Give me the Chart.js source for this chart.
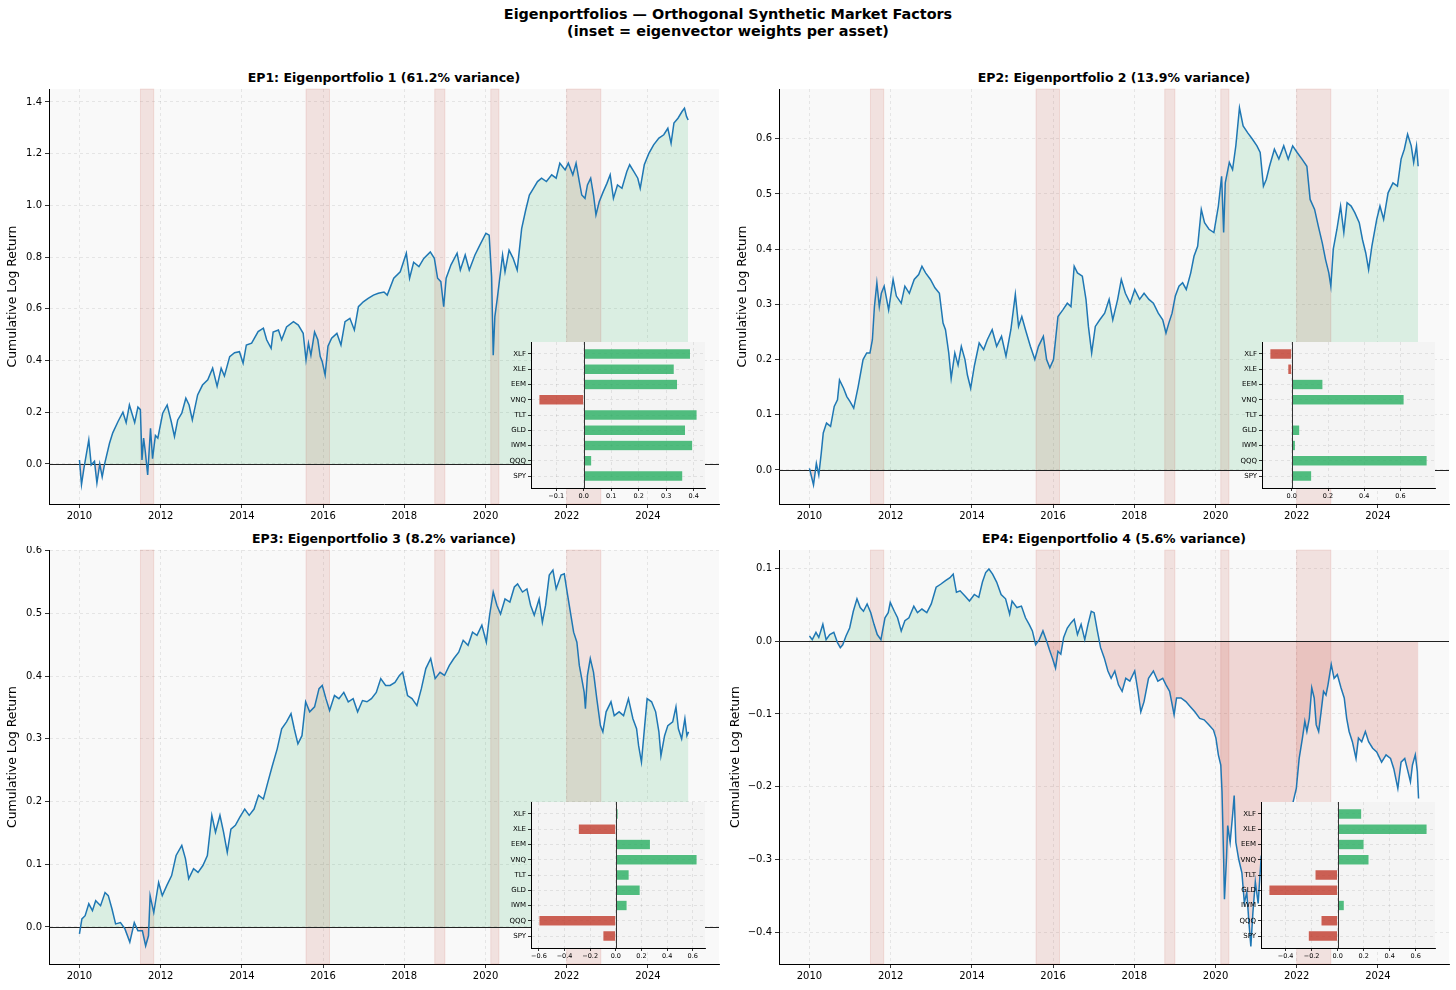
<!DOCTYPE html>
<html>
<head>
<meta charset="utf-8">
<script src="https://cdn.jsdelivr.net/npm/chart.js@4.4.1/dist/chart.umd.min.js"></script>
<style>
  body { margin: 0; background: #fff; font-family: 'DejaVu Sans', sans-serif; }
  #fig { position: relative; width: 1456px; height: 990px; overflow: hidden; }
  canvas { position: absolute; }
  .suptitle { position: absolute; left: 0; top: 6px; width: 1456px; text-align: center;
              font-weight: bold; font-size: 14.4px; line-height: 17px; color: #000; }
  .axtitle { position: absolute; width: 700px; text-align: center; font-weight: bold;
             font-size: 12.5px; line-height: 15px; color: #000; }
</style>
</head>
<body>
<div id="fig">
  <div class="suptitle">Eigenportfolios — Orthogonal Synthetic Market Factors<br>(inset = eigenvector weights per asset)</div>
</div>
<script>
/* Eigenportfolio cumulative returns with eigenvector weight insets */

// Shared axis data
const yearTicks = [2010, 2012, 2014, 2016, 2018, 2020, 2022, 2024];
const crisisStart = [2011.50, 2015.58, 2018.75, 2020.13, 2022.00];
const crisisEnd   = [2011.83, 2016.16, 2019.00, 2020.33, 2022.84];
const varianceShare = [61.2, 13.9, 8.2, 5.6];

// Assets, bottom to top of the inset
const assets = ['SPY', 'QQQ', 'IWM', 'GLD', 'TLT', 'VNQ', 'EEM', 'XLE', 'XLF'];
const ep1Weights = [0.360, 0.029, 0.396, 0.370, 0.412, -0.163, 0.341, 0.329, 0.388];
const ep2Weights = [0.110, 0.747, 0.020, 0.044, 0.009, 0.620, 0.172, -0.022, -0.121];
const ep3Weights = [-0.101, -0.600, 0.088, 0.190, 0.104, 0.634, 0.270, -0.293, 0.018];
const ep4Weights = [-0.226, -0.128, 0.051, -0.528, -0.174, 0.241, 0.203, 0.687, 0.185];

// EP1 cumulative log return
const ep1Dates = [2010.00,2010.05,2010.11,2010.23,2010.29,2010.37,2010.43,2010.50,2010.56,2010.62,2010.74,2010.82,2010.95,
  2011.07,2011.15,2011.23,2011.36,2011.44,2011.50,2011.54,2011.58,2011.62,2011.68,2011.75,2011.80,2011.87,2011.93,
  2012.05,2012.16,2012.26,2012.34,2012.42,2012.52,2012.62,2012.70,2012.78,2012.91,2013.03,2013.16,2013.28,2013.39,
  2013.49,2013.57,2013.70,2013.82,2013.94,2014.03,2014.11,2014.24,2014.40,2014.53,2014.61,2014.72,2014.77,2014.90,
  2014.98,2015.10,2015.27,2015.39,2015.51,2015.58,2015.64,2015.70,2015.79,2015.87,2015.93,2015.98,2016.05,2016.12,
  2016.21,2016.34,2016.44,2016.54,2016.66,2016.77,2016.87,2016.99,2017.11,2017.24,2017.36,2017.50,2017.58,2017.74,
  2017.90,2018.05,2018.13,2018.23,2018.36,2018.48,2018.64,2018.74,2018.82,2018.90,2018.97,2019.03,2019.15,2019.30,
  2019.38,2019.50,2019.60,2019.74,2019.86,2020.01,2020.09,2020.15,2020.19,2020.23,2020.29,2020.37,2020.42,2020.48,
  2020.58,2020.68,2020.78,2020.89,2020.99,2021.08,2021.18,2021.28,2021.38,2021.50,2021.63,2021.74,2021.83,2021.96,
  2022.04,2022.15,2022.23,2022.31,2022.37,2022.45,2022.51,2022.59,2022.66,2022.72,2022.80,2022.90,2022.99,2023.07,
  2023.15,2023.25,2023.36,2023.48,2023.55,2023.65,2023.75,2023.81,2023.91,2024.02,2024.14,2024.27,2024.39,2024.49,
  2024.57,2024.64,2024.74,2024.84,2024.90,2024.95,2024.99];
const ep1Values = [0.015,-0.080,-0.017,0.093,-0.004,0.010,-0.074,0.000,-0.050,0.000,0.080,0.120,0.164,
  0.200,0.160,0.228,0.160,0.220,0.210,0.015,0.100,0.050,-0.043,0.138,0.020,0.110,0.100,
  0.196,0.228,0.164,0.106,0.170,0.196,0.254,0.228,0.170,0.267,0.305,0.325,0.370,0.300,
  0.370,0.340,0.415,0.430,0.434,0.390,0.460,0.467,0.512,0.525,0.480,0.447,0.510,0.518,
  0.480,0.530,0.550,0.537,0.505,0.402,0.467,0.420,0.510,0.480,0.415,0.395,0.344,0.455,
  0.486,0.505,0.460,0.550,0.563,0.518,0.608,0.627,0.640,0.653,0.660,0.665,0.653,0.718,
  0.743,0.815,0.718,0.780,0.763,0.795,0.820,0.795,0.718,0.705,0.608,0.718,0.770,0.815,
  0.750,0.808,0.750,0.808,0.846,0.892,0.885,0.724,0.420,0.570,0.640,0.743,0.808,0.743,
  0.827,0.795,0.750,0.910,0.982,1.040,1.066,1.092,1.105,1.092,1.118,1.105,1.163,1.137,
  1.163,1.118,1.163,1.092,1.040,1.027,1.079,1.105,1.040,0.963,1.014,1.053,1.085,1.118,
  1.027,1.079,1.066,1.131,1.157,1.131,1.105,1.066,1.157,1.200,1.234,1.260,1.273,1.298,
  1.240,1.318,1.337,1.363,1.376,1.344,1.330];

// EP2 cumulative log return
const ep2Dates = [2010.00,2010.06,2010.10,2010.17,2010.23,2010.29,2010.34,2010.42,2010.52,2010.61,2010.69,2010.74,2010.84,
  2010.92,2011.00,2011.09,2011.20,2011.32,2011.41,2011.49,2011.55,2011.60,2011.66,2011.72,2011.77,2011.84,2011.95,
  2012.06,2012.14,2012.26,2012.35,2012.46,2012.58,2012.69,2012.77,2012.86,2012.98,2013.09,2013.20,2013.29,2013.35,
  2013.43,2013.49,2013.58,2013.66,2013.74,2013.83,2013.89,2013.97,2014.06,2014.18,2014.29,2014.38,2014.50,2014.61,
  2014.73,2014.84,2014.96,2015.07,2015.15,2015.23,2015.32,2015.44,2015.55,2015.64,2015.76,2015.84,2015.92,2016.01,
  2016.12,2016.24,2016.35,2016.44,2016.52,2016.60,2016.72,2016.81,2016.87,2016.95,2017.04,2017.15,2017.27,2017.38,
  2017.47,2017.59,2017.68,2017.78,2017.90,2018.01,2018.13,2018.24,2018.36,2018.47,2018.59,2018.70,2018.78,2018.85,
  2018.93,2019.01,2019.10,2019.19,2019.28,2019.39,2019.47,2019.56,2019.65,2019.73,2019.84,2019.96,2020.07,2020.15,
  2020.20,2020.24,2020.34,2020.42,2020.50,2020.59,2020.68,2020.79,2020.91,2021.02,2021.10,2021.18,2021.25,2021.33,
  2021.45,2021.56,2021.68,2021.79,2021.90,2022.01,2022.13,2022.25,2022.33,2022.44,2022.53,2022.63,2022.71,2022.79,
  2022.84,2022.90,2022.99,2023.08,2023.16,2023.24,2023.34,2023.43,2023.54,2023.62,2023.70,2023.77,2023.85,2023.97,
  2024.05,2024.14,2024.25,2024.37,2024.48,2024.57,2024.65,2024.73,2024.82,2024.88,2024.95,2024.99];
const ep2Values = [0.003,-0.015,-0.027,0.012,-0.009,0.030,0.067,0.085,0.079,0.115,0.127,0.163,0.148,
  0.133,0.124,0.112,0.151,0.200,0.212,0.212,0.236,0.296,0.339,0.296,0.320,0.333,0.290,
  0.345,0.315,0.302,0.333,0.320,0.345,0.354,0.369,0.357,0.345,0.330,0.320,0.266,0.254,
  0.212,0.166,0.212,0.190,0.224,0.200,0.172,0.148,0.188,0.230,0.218,0.236,0.254,0.224,
  0.242,0.206,0.254,0.318,0.260,0.278,0.254,0.224,0.200,0.224,0.242,0.200,0.185,0.200,
  0.278,0.290,0.302,0.296,0.369,0.357,0.351,0.309,0.260,0.212,0.260,0.272,0.284,0.309,
  0.272,0.309,0.345,0.320,0.302,0.327,0.309,0.320,0.309,0.302,0.284,0.272,0.248,0.266,
  0.284,0.315,0.333,0.339,0.327,0.357,0.387,0.405,0.472,0.448,0.436,0.430,0.478,0.532,
  0.430,0.520,0.557,0.544,0.587,0.656,0.623,0.611,0.599,0.587,0.575,0.514,0.526,0.550,
  0.581,0.563,0.587,0.563,0.587,0.575,0.563,0.550,0.490,0.472,0.442,0.411,0.381,0.357,
  0.333,0.400,0.436,0.478,0.430,0.484,0.478,0.466,0.448,0.417,0.393,0.363,0.405,0.454,
  0.478,0.454,0.502,0.520,0.514,0.563,0.581,0.608,0.587,0.557,0.587,0.550];

// EP3 cumulative log return
const ep3Dates = [2010.00,2010.06,2010.14,2010.23,2010.32,2010.40,2010.52,2010.63,2010.71,2010.80,2010.89,2011.01,2011.12,
  2011.24,2011.35,2011.44,2011.55,2011.63,2011.70,2011.74,2011.83,2011.95,2012.04,2012.15,2012.27,2012.38,2012.52,
  2012.61,2012.69,2012.81,2012.92,2013.04,2013.15,2013.26,2013.35,2013.46,2013.55,2013.64,2013.73,2013.84,2013.95,
  2014.07,2014.18,2014.30,2014.41,2014.53,2014.64,2014.75,2014.87,2014.98,2015.10,2015.21,2015.29,2015.38,2015.48,
  2015.57,2015.67,2015.79,2015.90,2015.98,2016.07,2016.16,2016.28,2016.39,2016.51,2016.62,2016.74,2016.85,2016.97,
  2017.08,2017.19,2017.31,2017.42,2017.54,2017.65,2017.77,2017.88,2017.96,2018.08,2018.19,2018.31,2018.42,2018.53,
  2018.65,2018.76,2018.88,2018.99,2019.11,2019.22,2019.34,2019.45,2019.57,2019.68,2019.79,2019.91,2020.02,2020.10,
  2020.19,2020.28,2020.37,2020.48,2020.60,2020.71,2020.79,2020.91,2021.02,2021.11,2021.20,2021.32,2021.40,2021.48,
  2021.57,2021.66,2021.74,2021.86,2021.94,2022.01,2022.09,2022.17,2022.25,2022.31,2022.37,2022.43,2022.46,2022.51,
  2022.58,2022.66,2022.74,2022.83,2022.89,2022.97,2023.09,2023.17,2023.29,2023.40,2023.52,2023.63,2023.72,2023.77,
  2023.84,2023.92,2023.98,2024.09,2024.19,2024.27,2024.32,2024.41,2024.49,2024.61,2024.69,2024.75,2024.83,2024.91,
  2024.96,2025.00];
const ep3Values = [-0.011,0.013,0.018,0.037,0.026,0.042,0.034,0.055,0.050,0.029,0.005,0.007,-0.003,
  -0.024,0.007,-0.006,-0.006,-0.030,-0.014,0.050,0.023,0.071,0.050,0.066,0.082,0.114,0.130,
  0.109,0.077,0.093,0.087,0.098,0.114,0.178,0.151,0.178,0.151,0.119,0.156,0.162,0.175,
  0.188,0.178,0.188,0.210,0.204,0.231,0.257,0.284,0.316,0.327,0.340,0.316,0.292,0.305,
  0.359,0.343,0.351,0.380,0.385,0.364,0.345,0.369,0.364,0.374,0.359,0.364,0.343,0.361,
  0.359,0.364,0.374,0.396,0.385,0.385,0.390,0.401,0.406,0.369,0.364,0.353,0.380,0.412,
  0.428,0.396,0.406,0.401,0.417,0.428,0.438,0.457,0.449,0.470,0.465,0.481,0.454,0.497,
  0.534,0.513,0.499,0.523,0.518,0.542,0.547,0.534,0.539,0.513,0.497,0.523,0.486,0.513,
  0.561,0.569,0.539,0.561,0.563,0.534,0.502,0.470,0.454,0.417,0.396,0.374,0.348,0.401,
  0.428,0.406,0.364,0.321,0.311,0.343,0.359,0.337,0.343,0.337,0.364,0.332,0.316,0.289,
  0.263,0.321,0.364,0.359,0.343,0.311,0.273,0.305,0.321,0.327,0.351,0.316,0.300,0.332,
  0.305,0.311];

// EP4 cumulative log return
const ep4Dates = [2010.00,2010.07,2010.16,2010.23,2010.33,2010.41,2010.50,2010.60,2010.69,2010.76,2010.82,2010.90,2010.99,
  2011.08,2011.17,2011.25,2011.33,2011.42,2011.51,2011.59,2011.67,2011.76,2011.86,2011.94,2011.99,2012.09,2012.17,
  2012.26,2012.35,2012.45,2012.57,2012.66,2012.77,2012.89,2013.00,2013.12,2013.23,2013.35,2013.46,2013.54,2013.62,
  2013.71,2013.83,2013.94,2014.06,2014.17,2014.26,2014.34,2014.42,2014.51,2014.61,2014.72,2014.83,2014.93,2014.99,
  2015.11,2015.22,2015.32,2015.41,2015.49,2015.57,2015.66,2015.75,2015.84,2015.91,2015.98,2016.06,2016.12,2016.19,
  2016.26,2016.35,2016.44,2016.52,2016.60,2016.69,2016.78,2016.86,2016.94,2017.01,2017.09,2017.17,2017.26,2017.35,
  2017.43,2017.52,2017.61,2017.70,2017.79,2017.89,2018.01,2018.09,2018.16,2018.24,2018.35,2018.47,2018.58,2018.70,
  2018.78,2018.87,2018.98,2019.04,2019.15,2019.27,2019.38,2019.49,2019.61,2019.72,2019.84,2019.95,2020.01,2020.07,
  2020.13,2020.16,2020.20,2020.22,2020.27,2020.30,2020.36,2020.42,2020.46,2020.50,2020.57,2020.65,2020.71,2020.77,
  2020.83,2020.87,2020.92,2020.98,2021.05,2021.12,2021.25,2021.40,2021.55,2021.70,2021.85,2021.91,2021.99,2022.06,
  2022.14,2022.20,2022.25,2022.31,2022.37,2022.43,2022.48,2022.54,2022.60,2022.66,2022.72,2022.77,2022.85,2022.92,
  2023.00,2023.09,2023.17,2023.23,2023.29,2023.37,2023.46,2023.52,2023.60,2023.69,2023.77,2023.87,2023.97,2024.09,
  2024.20,2024.31,2024.39,2024.49,2024.57,2024.66,2024.74,2024.80,2024.85,2024.92,2024.97,2025.00];
const ep4Values = [0.007,0.002,0.012,0.005,0.023,0.002,0.009,0.012,-0.002,-0.009,-0.005,0.007,0.018,
  0.041,0.058,0.046,0.041,0.051,0.039,0.023,0.009,0.002,0.032,0.039,0.053,0.041,0.032,
  0.014,0.028,0.032,0.048,0.039,0.044,0.039,0.051,0.074,0.078,0.083,0.087,0.092,0.067,
  0.069,0.062,0.055,0.064,0.060,0.081,0.094,0.099,0.092,0.081,0.064,0.058,0.037,0.055,
  0.046,0.048,0.032,0.023,0.014,-0.005,0.002,0.014,0.000,-0.012,-0.023,-0.037,-0.014,-0.018,
  0.005,0.018,0.025,0.030,0.009,0.023,0.002,0.023,0.041,0.039,0.014,-0.009,-0.023,-0.041,
  -0.051,-0.041,-0.060,-0.069,-0.051,-0.055,-0.041,-0.069,-0.097,-0.083,-0.051,-0.041,-0.055,-0.051,
  -0.060,-0.069,-0.101,-0.078,-0.078,-0.083,-0.090,-0.097,-0.106,-0.108,-0.115,-0.122,-0.133,-0.156,
  -0.170,-0.207,-0.299,-0.354,-0.299,-0.253,-0.276,-0.239,-0.212,-0.276,-0.299,-0.318,-0.359,-0.345,
  -0.391,-0.419,-0.373,-0.330,-0.360,-0.300,-0.330,-0.300,-0.280,-0.260,-0.240,-0.221,-0.202,-0.161,
  -0.133,-0.110,-0.124,-0.106,-0.064,-0.078,-0.115,-0.124,-0.097,-0.069,-0.074,-0.060,-0.032,-0.051,
  -0.046,-0.064,-0.078,-0.106,-0.124,-0.138,-0.161,-0.133,-0.138,-0.124,-0.138,-0.147,-0.152,-0.166,
  -0.156,-0.161,-0.175,-0.202,-0.166,-0.161,-0.179,-0.193,-0.170,-0.156,-0.179,-0.216];

const seriesDates = [ep1Dates, ep2Dates, ep3Dates, ep4Dates];
const seriesValues = [ep1Values, ep2Values, ep3Values, ep4Values];
const seriesWeights = [ep1Weights, ep2Weights, ep3Weights, ep4Weights];

// Layout of the four panels (pixels)
const panels = [
  { left: 0,   top: 85,  w: 728, h: 440, yAxisW: 49, xAxisH: 21, padRight: 9, yMin: -0.155, yMax: 1.450, yStep: 0.2, labelPad: 5, titleY: 70,
    inset: { left: 505,  top: 338, w: 207, h: 167, step: 0.1 } },
  { left: 728, top: 85,  w: 728, h: 440, yAxisW: 51, xAxisH: 21, padRight: 7, yMin: -0.0616, yMax: 0.690, yStep: 0.1, labelPad: 7, titleY: 70,
    inset: { left: 1236, top: 338, w: 206, h: 167, step: 0.2 } },
  { left: 0,   top: 546, w: 728, h: 444, yAxisW: 49, xAxisH: 26, padRight: 9, yMin: -0.059, yMax: 0.601, yStep: 0.1, labelPad: 5, titleY: 531,
    inset: { left: 505,  top: 798, w: 207, h: 167, step: 0.2 } },
  { left: 728, top: 546, w: 728, h: 444, yAxisW: 51, xAxisH: 26, padRight: 7, yMin: -0.443, yMax: 0.125, yStep: 0.1, labelPad: 0, titleY: 531,
    inset: { left: 1235, top: 798, w: 207, h: 167, step: 0.2 } }
];

const X_MIN = 2009.25, X_MAX = 2025.75;
const LINE_COLOR = '#1f77b4';
const GREEN_FILL = 'rgba(39,174,96,0.15)';
const RED_FILL = 'rgba(192,57,43,0.18)';
const SPAN_FILL = 'rgba(192,57,43,0.12)';
const BAR_GREEN = 'rgba(39,174,96,0.8)';
const BAR_RED = 'rgba(192,57,43,0.8)';

Chart.defaults.font.family = "'DejaVu Sans', sans-serif";
Chart.defaults.color = '#000';

const fig = document.getElementById('fig');

function makeCanvas(left, top, w, h) {
  const cv = document.createElement('canvas');
  cv.width = w; cv.height = h;
  cv.style.left = left + 'px'; cv.style.top = top + 'px';
  cv.style.width = w + 'px'; cv.style.height = h + 'px';
  fig.appendChild(cv);
  return cv;
}

// tick values at multiples of step inside [lo, hi]
function stepTicks(lo, hi, step) {
  const out = [];
  for (let i = Math.ceil(lo / step - 1e-9); i * step <= hi + 1e-9; i++) out.push(+(i * step).toFixed(6));
  return out;
}

// matplotlib style minus sign
function fmt(v, d) {
  const s = Math.abs(v).toFixed(d);
  return v < -1e-9 ? '\u2212' + s : s;
}

function gridOpts(len) {
  return { color: 'rgba(0,0,0,0.10)', lineWidth: 0.8, tickColor: '#000', tickLength: len, tickWidth: 0.8, tickBorderDash: [], offset: false };
}
const borderOpts = { color: '#000', width: 1, dash: [3, 3] };

// keep the plot box where the layout says, ignore label overhang
function fixX(h) {
  return s => { s.height = h; s.paddingLeft = 0; s.paddingRight = 0; };
}
function fixY(w) {
  return s => { s.width = w; s.paddingTop = 0; s.paddingBottom = 0; };
}

// background, crisis spans and zero line for main panels
const mainDecor = {
  id: 'mainDecor',
  beforeDraw(chart) {
    const a = chart.chartArea, ctx = chart.ctx;
    ctx.save();
    ctx.fillStyle = '#f9f9f9';
    ctx.fillRect(a.left, a.top, a.right - a.left, a.bottom - a.top);
    ctx.restore();
  },
  beforeDatasetDraw(chart, args) {
    if (args.index !== 0) return;
    const a = chart.chartArea, ctx = chart.ctx;
    const xs = chart.scales.x, ys = chart.scales.y;
    ctx.save();
    ctx.fillStyle = SPAN_FILL;
    ctx.strokeStyle = 'rgba(192,57,43,0.15)';
    ctx.lineWidth = 0.8;
    crisisStart.forEach((s, i) => {
      const x1 = xs.getPixelForValue(s), x2 = xs.getPixelForValue(crisisEnd[i]);
      ctx.fillRect(x1, a.top, x2 - x1, a.bottom - a.top);
      ctx.strokeRect(x1, a.top, x2 - x1, a.bottom - a.top);
    });
    const y0 = Math.round(ys.getPixelForValue(0)) + 0.5;
    ctx.strokeStyle = '#222';
    ctx.lineWidth = 1;
    ctx.beginPath();
    ctx.moveTo(a.left, y0);
    ctx.lineTo(a.right, y0);
    ctx.stroke();
    ctx.restore();
  }
};

// background and zero line for insets
const insetDecor = {
  id: 'insetDecor',
  beforeDraw(chart) {
    const a = chart.chartArea, ctx = chart.ctx;
    ctx.save();
    ctx.fillStyle = '#f4f4f4';
    ctx.fillRect(a.left, a.top, a.right - a.left, a.bottom - a.top);
    ctx.restore();
  },
  afterDatasetsDraw(chart) {
    const a = chart.chartArea, ctx = chart.ctx;
    const x0 = Math.round(chart.scales.x.getPixelForValue(0)) + 0.5;
    ctx.save();
    ctx.strokeStyle = '#333';
    ctx.lineWidth = 1;
    ctx.beginPath();
    ctx.moveTo(x0, a.top);
    ctx.lineTo(x0, a.bottom);
    ctx.stroke();
    ctx.restore();
  }
};

function buildMain(p, k) {
  const cv = makeCanvas(p.left, p.top, p.w, p.h);
  const pts = seriesDates[k].map((d, i) => ({ x: d, y: seriesValues[k][i] }));
  const yTicks = stepTicks(p.yMin, p.yMax, p.yStep);
  new Chart(cv, {
    type: 'line',
    data: {
      datasets: [
        { data: pts, borderColor: LINE_COLOR, borderWidth: 1.5, pointRadius: 0, fill: false },
        { data: pts, borderColor: 'rgba(0,0,0,0)', borderWidth: 0, pointRadius: 0,
          fill: { target: 'origin', above: GREEN_FILL, below: RED_FILL } }
      ]
    },
    options: {
      responsive: false,
      animation: false,
      events: [],
      layout: { padding: { top: 4, right: p.padRight, left: 0, bottom: 0 } },
      plugins: { legend: { display: false }, tooltip: { enabled: false } },
      scales: {
        x: {
          type: 'linear', min: X_MIN, max: X_MAX, offset: false,
          afterBuildTicks: s => { s.ticks = yearTicks.map(v => ({ value: v })); },
          afterFit: fixX(p.xAxisH),
          ticks: { font: { size: 10 }, padding: 2, maxRotation: 0, autoSkip: false, callback: v => String(v) },
          grid: gridOpts(4), border: borderOpts
        },
        y: {
          type: 'linear', min: p.yMin, max: p.yMax, offset: false,
          afterBuildTicks: s => { s.ticks = yTicks.map(v => ({ value: v })); },
          afterFit: fixY(p.yAxisW),
          ticks: { font: { size: 10 }, padding: 3, autoSkip: false, callback: v => fmt(v, 1) },
          grid: gridOpts(4), border: borderOpts,
          title: { display: true, text: 'Cumulative Log Return', font: { size: 12.4 }, padding: { top: p.labelPad, bottom: 0 } }
        }
      }
    },
    plugins: [mainDecor]
  });

  // subplot title
  const t = document.createElement('div');
  t.className = 'axtitle';
  const centre = p.left + p.yAxisW + (p.w - p.yAxisW - p.padRight) / 2;
  t.style.left = (centre - 350) + 'px';
  t.style.top = p.titleY + 'px';
  t.textContent = 'EP' + (k + 1) + ': Eigenportfolio ' + (k + 1) + ' (' + varianceShare[k].toFixed(1) + '% variance)';
  fig.appendChild(t);
}

function buildInset(p, k) {
  const q = p.inset;
  const w = seriesWeights[k];
  const lo = Math.min(0, ...w), hi = Math.max(0, ...w);
  const pad = 0.05 * (hi - lo);
  const xMin = lo - pad, xMax = hi + pad;
  const xTicks = stepTicks(xMin, xMax, q.step);
  const cv = makeCanvas(q.left, q.top, q.w, q.h);
  new Chart(cv, {
    type: 'bar',
    data: {
      datasets: [{
        data: w.map((v, i) => ({ x: v, y: i })),
        backgroundColor: w.map(v => v >= 0 ? BAR_GREEN : BAR_RED),
        borderColor: 'rgba(255,255,255,0.7)',
        borderWidth: 0.5,
        barPercentage: 0.7,
        categoryPercentage: 1
      }]
    },
    options: {
      indexAxis: 'y',
      responsive: false,
      animation: false,
      events: [],
      layout: { padding: { top: 4, right: 7, left: 0, bottom: 0 } },
      plugins: { legend: { display: false }, tooltip: { enabled: false } },
      scales: {
        x: {
          type: 'linear', min: xMin, max: xMax, offset: false,
          afterBuildTicks: s => { s.ticks = xTicks.map(v => ({ value: v })); },
          afterFit: fixX(17),
          ticks: { font: { size: 6.5 }, padding: 1, maxRotation: 0, autoSkip: false, callback: v => fmt(v, 1) },
          grid: gridOpts(3), border: borderOpts
        },
        y: {
          type: 'linear', min: -0.785, max: assets.length - 1 + 0.785, offset: false,
          afterBuildTicks: s => { s.ticks = assets.map((_, i) => ({ value: i })); },
          afterFit: fixY(26),
          ticks: { font: { size: 7 }, padding: 2, autoSkip: false, callback: v => assets[v] },
          grid: gridOpts(3), border: borderOpts
        }
      }
    },
    plugins: [insetDecor]
  });
}

panels.forEach((p, k) => { buildMain(p, k); });
panels.forEach((p, k) => { buildInset(p, k); });
</script>
</body>
</html>
